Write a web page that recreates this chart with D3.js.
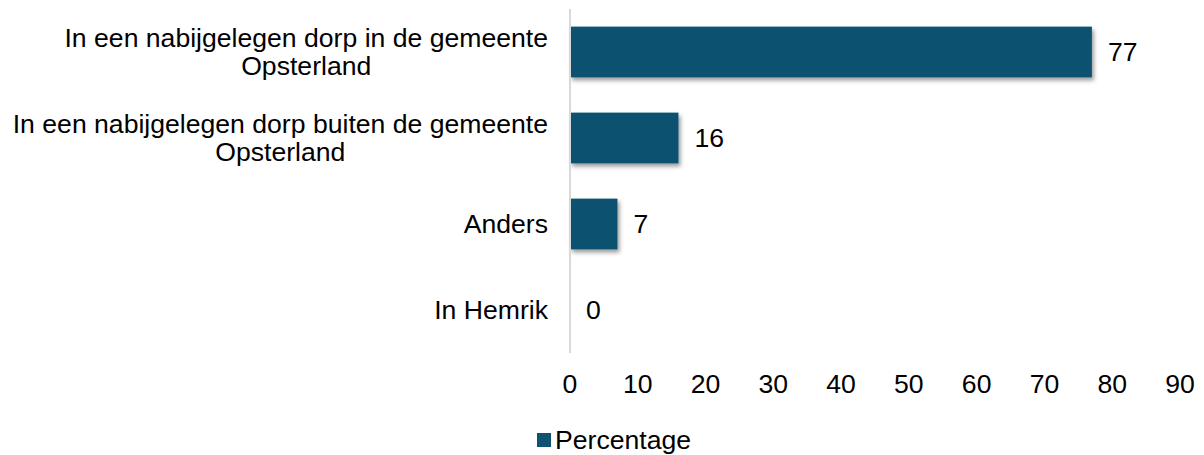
<!DOCTYPE html>
<html>
<head>
  <meta charset="utf-8">
  <script src="https://d3js.org/d3.v7.min.js"></script>
  <style>
    body { margin: 0; font-family: "Liberation Sans", Arial, sans-serif; background: #fff; }
    text { fill: #000; }
  </style>
</head>
<body>
  <script>
    // Data
    var categories = [
      ["In een nabijgelegen dorp in de gemeente", "Opsterland"],
      ["In een nabijgelegen dorp buiten de gemeente", "Opsterland"],
      ["Anders"],
      ["In Hemrik"]
    ];
    var values = [77, 16, 7, 0];
    var tickValues = [0, 10, 20, 30, 40, 50, 60, 70, 80, 90];
    var seriesName = "Percentage";

    var W = 1204, H = 455;
    var barColor = "#0f5170";
    var fontSize = "26.6px";

    var svg = d3.select("body").append("svg")
      .attr("width", W)
      .attr("height", H);

    var defs = svg.append("defs");
    defs.append("filter")
      .attr("id", "shadow")
      .attr("x", "-10%").attr("y", "-20%")
      .attr("width", "130%").attr("height", "160%")
      .append("feDropShadow")
      .attr("dx", 2).attr("dy", 3)
      .attr("stdDeviation", 2)
      .attr("flood-color", "#000")
      .attr("flood-opacity", 0.4);

    var x = d3.scaleLinear().domain([0, 90]).range([570, 1180]);
    var y = d3.scaleBand()
      .domain(d3.range(categories.length))
      .range([9, 353])
      .paddingInner(0.41)
      .paddingOuter(0.205);

    // bars
    svg.selectAll(".bar")
      .data(values)
      .enter().append("rect")
      .attr("class", "bar")
      .attr("x", x(0))
      .attr("y", function(d, i) { return y(i); })
      .attr("width", function(d) { return x(d) - x(0); })
      .attr("height", y.bandwidth())
      .attr("fill", barColor)
      .attr("filter", function(d) { return d > 0 ? "url(#shadow)" : null; });

    // axis line
    svg.append("line")
      .attr("x1", x(0)).attr("x2", x(0))
      .attr("y1", 9).attr("y2", 353)
      .attr("stroke", "#d9d9d9")
      .attr("stroke-width", 2);

    // value labels
    svg.selectAll(".val")
      .data(values)
      .enter().append("text")
      .attr("class", "val")
      .attr("x", function(d) { return x(d) + 16; })
      .attr("y", function(d, i) { return y(i) + y.bandwidth() / 2; })
      .attr("dy", "0.35em")
      .style("font-size", fontSize)
      .text(function(d) { return d; });

    // category labels (multi-line, centered block, right aligned)
    var labelRight = 548, lineH = 28;
    categories.forEach(function(lines, i) {
      var g = svg.append("g");
      var cy = y(i) + y.bandwidth() / 2;
      var texts = lines.map(function(t, j) {
        return g.append("text")
          .attr("y", cy + (j - (lines.length - 1) / 2) * lineH)
          .attr("dy", "0.35em")
          .attr("text-anchor", "middle")
          .style("font-size", fontSize)
          .text(t);
      });
      var maxW = d3.max(texts, function(t) { return t.node().getComputedTextLength(); });
      texts.forEach(function(t) { t.attr("x", labelRight - maxW / 2); });
    });

    // x axis tick labels
    svg.selectAll(".tick")
      .data(tickValues)
      .enter().append("text")
      .attr("class", "tick")
      .attr("x", function(d) { return x(d); })
      .attr("y", 384)
      .attr("dy", "0.35em")
      .attr("text-anchor", "middle")
      .style("font-size", fontSize)
      .text(function(d) { return d; });

    // legend
    var legend = svg.append("g");
    legend.append("rect")
      .attr("x", 537).attr("y", 433)
      .attr("width", 14).attr("height", 14)
      .attr("fill", barColor);
    legend.append("text")
      .attr("x", 555).attr("y", 440)
      .attr("dy", "0.35em")
      .style("font-size", fontSize)
      .text(seriesName);
  </script>
</body>
</html>
